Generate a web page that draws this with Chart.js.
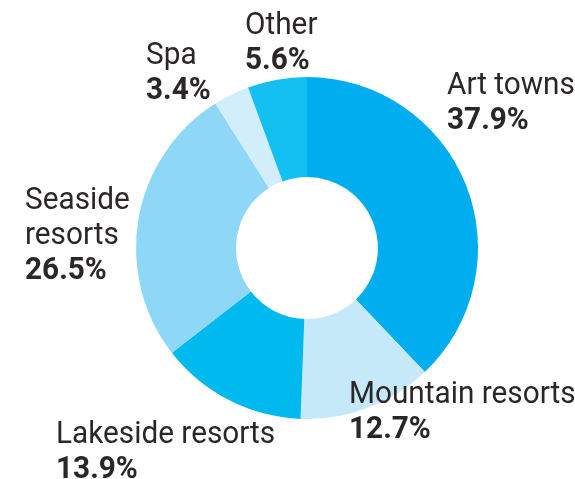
<!DOCTYPE html>
<html>
<head>
<meta charset="utf-8">
<script src="https://cdn.jsdelivr.net/npm/chart.js@4"></script>
<style>
  html, body { margin: 0; padding: 0; background: #fff; }
  #wrap { width: 575px; height: 479px; }
</style>
</head>
<body>
<div id="wrap"><canvas id="chart" width="575" height="479"></canvas></div>
<script>
// Chart data
const categories = ['Art towns', 'Mountain resorts', 'Lakeside resorts', 'Seaside resorts', 'Spa', 'Other'];
const shares = [37.9, 12.7, 13.9, 26.5, 3.4, 5.6];
const colors = ['#00aeef', '#c6e9fa', '#00b9ef', '#8ed7f7', '#d3eefb', '#14bff1'];

// Label layout (left x, baseline of first line) and line breaks
const labelLines = [['Art towns'], ['Mountain resorts'], ['Lakeside resorts'], ['Seaside', 'resorts'], ['Spa'], ['Other']];
const labelPos = [[447, 94], [349, 403], [56, 443], [25, 209], [146, 64], [245, 34]];

const lineGap = 35;
const squeeze = 0.93;

const labelPlugin = {
  id: 'sliceLabels',
  afterDraw(chart) {
    const ctx = chart.ctx;
    const values = chart.data.datasets[0].data;
    ctx.save();
    ctx.fillStyle = '#2b2728';
    ctx.textBaseline = 'alphabetic';
    ctx.textAlign = 'left';
    labelLines.forEach((lines, i) => {
      const [x, y] = labelPos[i];
      const rows = lines.map(t => ({ text: t, font: '32px Roboto' }));
      rows.push({ text: values[i].toFixed(1) + '%', font: 'bold 32px Roboto' });
      rows.forEach((row, j) => {
        ctx.save();
        ctx.translate(x, y + j * lineGap);
        ctx.scale(squeeze, 1);
        ctx.font = row.font;
        ctx.fillText(row.text, 0, 0);
        ctx.restore();
      });
    });
    ctx.restore();
  }
};

new Chart(document.getElementById('chart'), {
  type: 'doughnut',
  data: {
    labels: categories,
    datasets: [{
      data: shares,
      backgroundColor: colors,
      borderWidth: 0,
      hoverOffset: 0
    }]
  },
  options: {
    responsive: false,
    animation: false,
    cutout: '41.5%',
    layout: { padding: { left: 136, right: 97, top: 77, bottom: 60 } },
    plugins: {
      legend: { display: false },
      tooltip: { enabled: false }
    }
  },
  plugins: [labelPlugin]
});
</script>
</body>
</html>
